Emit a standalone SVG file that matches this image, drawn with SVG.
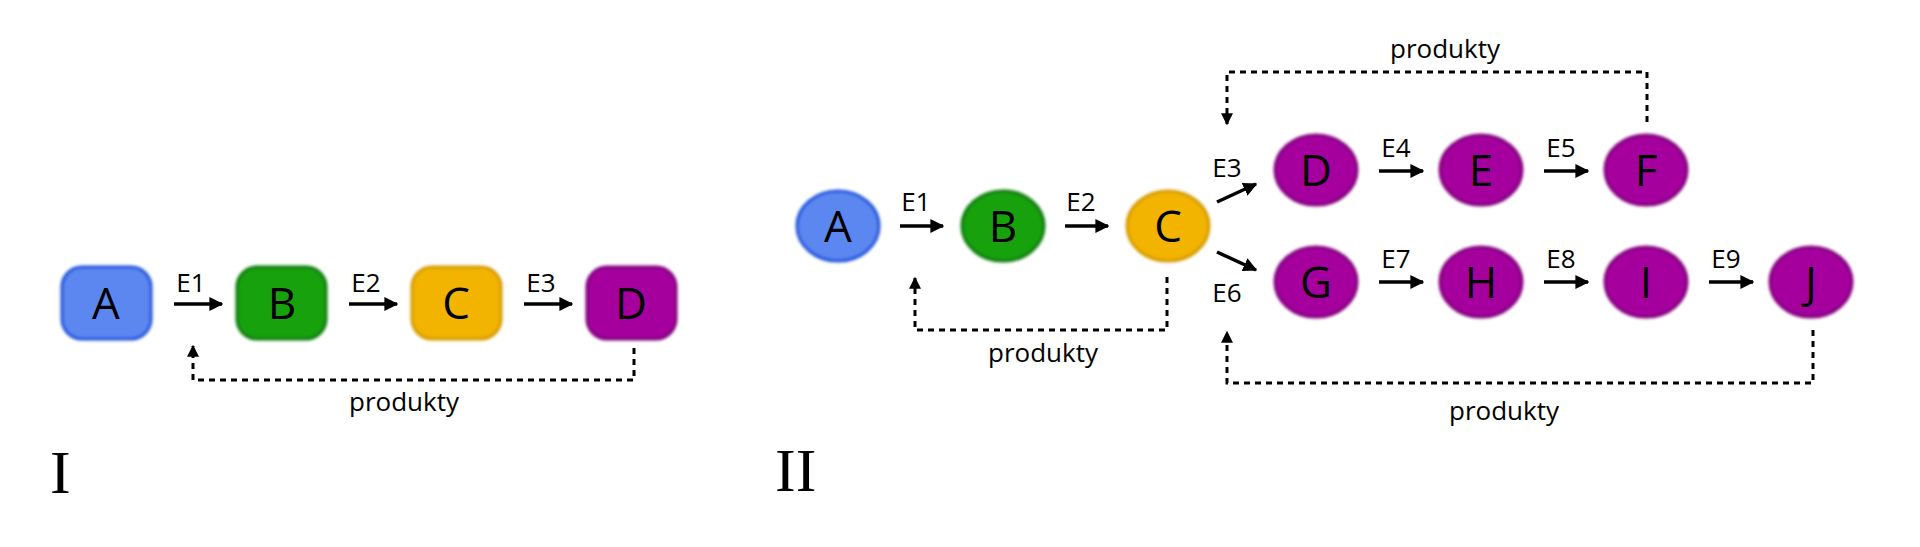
<svg xmlns="http://www.w3.org/2000/svg" width="1920" height="547" viewBox="0 0 1920 547">
<style>
text{font-family:"Open Sans","Liberation Sans",sans-serif;fill:#000}
.n{font-size:44px;text-anchor:middle}
.e{font-size:26px;text-anchor:middle}
.p{font-size:26px;text-anchor:middle}
.r{font-family:"Liberation Serif",serif;font-size:62px}
.blue{fill:#5b87f0;stroke:#1a4fdc;stroke-width:3}
.green{fill:#17a10a;stroke:#0f7a08;stroke-width:3}
.orange{fill:#f3b400;stroke:#d49a00;stroke-width:3}
.purple{fill:#a5009e;stroke:#80007a;stroke-width:3}
.a{stroke:#000;stroke-width:3.5;fill:none;marker-end:url(#ah)}
.d{stroke:#000;stroke-width:3;fill:none;stroke-dasharray:6 5;marker-end:url(#ah2)}
</style>
<defs>
<filter id="g" x="-20%" y="-20%" width="140%" height="140%"><feGaussianBlur stdDeviation="1.5"/></filter>
<marker id="ah" viewBox="0 0 10 10" refX="9" refY="5" markerWidth="4" markerHeight="4" orient="auto"><path d="M0,0 L10,5 L0,10 z"/></marker>
<marker id="ah2" viewBox="0 0 10 10" refX="9" refY="5" markerWidth="4" markerHeight="4" orient="auto"><path d="M0,0 L10,5 L0,10 z"/></marker>
</defs>
<rect width="1920" height="547" fill="#fff"/>
<g id="I-A"><rect class="blue" x="62" y="267" width="89" height="72" rx="20" filter="url(#g)"/><text class="n" x="106" y="319">A</text></g>
<g id="I-B"><rect class="green" x="237" y="267" width="89" height="72" rx="20" filter="url(#g)"/><text class="n" x="282" y="319">B</text></g>
<g id="I-C"><rect class="orange" x="412" y="267" width="89" height="72" rx="20" filter="url(#g)"/><text class="n" x="456" y="319">C</text></g>
<g id="I-D"><rect class="purple" x="587" y="267" width="89" height="72" rx="20" filter="url(#g)"/><text class="n" x="631" y="319">D</text></g>
<g id="II-A"><ellipse class="blue" cx="838" cy="226" rx="41" ry="35" filter="url(#g)"/><text class="n" x="838" y="242">A</text></g>
<g id="II-B"><ellipse class="green" cx="1003" cy="226" rx="41" ry="35" filter="url(#g)"/><text class="n" x="1003" y="242">B</text></g>
<g id="II-C"><ellipse class="orange" cx="1168" cy="226" rx="41" ry="35" filter="url(#g)"/><text class="n" x="1168" y="242">C</text></g>
<g id="II-D"><ellipse class="purple" cx="1316" cy="170" rx="41" ry="35" filter="url(#g)"/><text class="n" x="1316" y="186">D</text></g>
<g id="II-E"><ellipse class="purple" cx="1481" cy="170" rx="41" ry="35" filter="url(#g)"/><text class="n" x="1481" y="186">E</text></g>
<g id="II-F"><ellipse class="purple" cx="1646" cy="170" rx="41" ry="35" filter="url(#g)"/><text class="n" x="1646" y="186">F</text></g>
<g id="II-G"><ellipse class="purple" cx="1316" cy="282" rx="41" ry="35" filter="url(#g)"/><text class="n" x="1316" y="298">G</text></g>
<g id="II-H"><ellipse class="purple" cx="1481" cy="282" rx="41" ry="35" filter="url(#g)"/><text class="n" x="1481" y="298">H</text></g>
<g id="II-I"><ellipse class="purple" cx="1646" cy="282" rx="41" ry="35" filter="url(#g)"/><text class="n" x="1646" y="298">I</text></g>
<g id="II-J"><ellipse class="purple" cx="1811" cy="282" rx="41" ry="35" filter="url(#g)"/><text class="n" x="1811" y="298">J</text></g>
<g id="connectors">
<path class="a" d="M174,304 H222"/><path class="a" d="M349,304 H397"/><path class="a" d="M524,304 H572"/>
<path class="d" d="M634,348 V380 H193 V346"/>
<path class="a" d="M900,226 H943"/><path class="a" d="M1065,226 H1108"/>
<path class="a" d="M1217,202 L1256,184"/><path class="a" d="M1217,252 L1256,270"/>
<path class="a" d="M1379,171 H1423"/><path class="a" d="M1544,171 H1588"/>
<path class="a" d="M1379,282 H1423"/><path class="a" d="M1544,282 H1588"/><path class="a" d="M1709,282 H1753"/>
<path class="d" d="M1647,122 V72 H1227 V124"/>
<path class="d" d="M1167,277 V330 H915 V278"/>
<path class="d" d="M1813,330 V383 H1227 V332"/>
</g>
<g id="labels">
<text class="e" x="191" y="292">E1</text><text class="e" x="366" y="292">E2</text><text class="e" x="541" y="292">E3</text>
<text class="p" x="404" y="411">produkty</text>
<text class="r" x="50" y="493">I</text>
<text class="e" x="916" y="211">E1</text><text class="e" x="1081" y="211">E2</text>
<text class="e" x="1227" y="177">E3</text><text class="e" x="1227" y="302">E6</text>
<text class="e" x="1396" y="157">E4</text><text class="e" x="1561" y="157">E5</text>
<text class="e" x="1396" y="268">E7</text><text class="e" x="1561" y="268">E8</text><text class="e" x="1726" y="268">E9</text>
<text class="p" x="1445" y="58">produkty</text>
<text class="p" x="1043" y="362">produkty</text>
<text class="p" x="1504" y="420">produkty</text>
<text class="r" x="775" y="491">II</text>
</g>
</svg>
